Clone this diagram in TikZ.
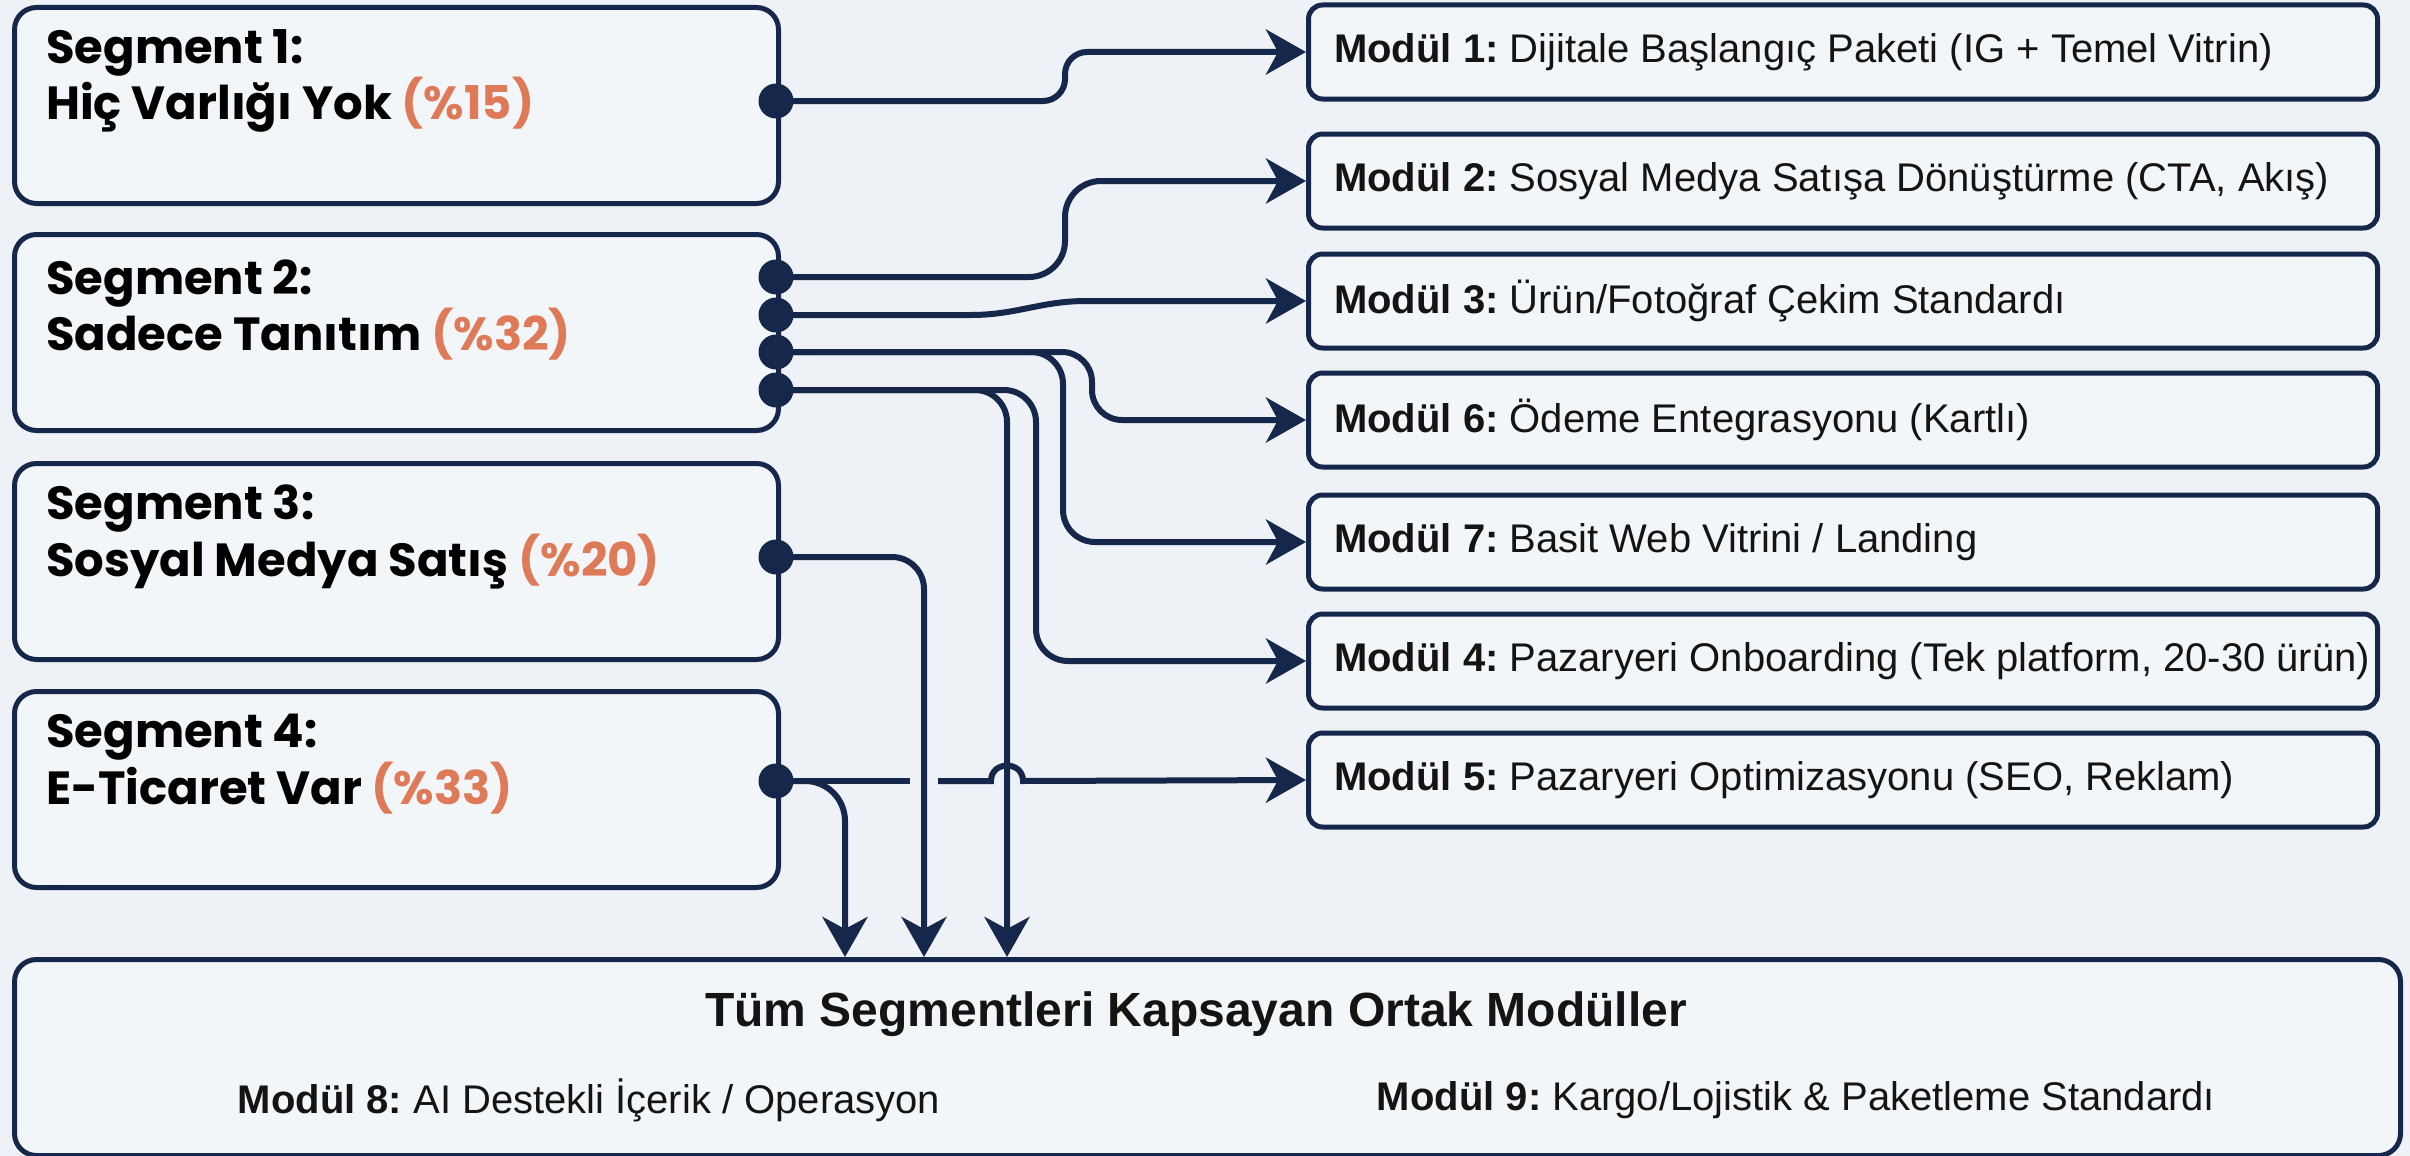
\documentclass[tikz,border=0pt]{standalone}
\usepackage{fontspec}
\setmainfont{Liberation Sans}
\newfontfamily\segfont{Poppins}
\usetikzlibrary{arrows.meta}
\definecolor{navy}{RGB}{21,40,75}
\definecolor{bgc}{RGB}{238,242,246}
\definecolor{boxfill}{RGB}{243,246,249}
\definecolor{pct}{RGB}{222,122,88}
\definecolor{txt}{RGB}{20,20,20}
\frenchspacing
\begin{document}
\begin{tikzpicture}[x=1pt,y=-1pt,
  segbox/.style={draw=navy, line width=5pt, fill=boxfill, rounded corners=22pt,
    minimum width=764pt, minimum height=196pt, anchor=north west, inner sep=0pt},
  segtext/.style={anchor=west, align=left, inner sep=0pt, text=black,
    font=\segfont\bfseries\fontsize{46.5}{55}\selectfont},
  modbox/.style={draw=navy, line width=5pt, fill=boxfill, rounded corners=14pt,
    minimum width=1069pt, minimum height=94pt, anchor=west, inner sep=0pt},
  modtext/.style={anchor=west, inner sep=0pt, text=txt,
    font=\fontsize{40}{46}\selectfont},
  bottext/.style={text=txt, inner sep=0pt, font=\fontsize{40}{46}\selectfont},
  dot/.style={circle, fill=navy, minimum size=35pt, inner sep=0pt},
  wire/.style={draw=navy, line width=6pt, rounded corners=32pt},
  conn/.style={wire, -{Stealth[length=40pt,width=45pt,inset=12pt]}}
]
\fill[bgc] (0,0) rectangle (2410,1156);
\useasboundingbox (0,0) rectangle (2410,1156);

% segment boxes
\node[segbox] (s1) at (12,5) {};
\node[segbox] (s2) at (12,232) {};
\node[segbox] (s3) at (12,461) {};
\node[segbox] (s4) at (12,689) {};
\node[segtext] (t1) at (46,81) {Segment 1:\\Hiç Varlığı Yok \textcolor{pct}{(\%15)}};
\node[segtext] (t2) at (46,310) {Segment 2:\\Sadece Tanıtım \textcolor{pct}{(\%32)}};
\node[segtext] (t3) at (46,537) {Segment 3:\\Sosyal Medya Satış \textcolor{pct}{(\%20)}};
\node[segtext] (t4) at (46,764) {Segment 4:\\E-Ticaret Var \textcolor{pct}{(\%33)}};

% module boxes
\node[modbox] (m1) at (1306,52) {};
\node[modbox] (m2) at (1306,181) {};
\node[modbox] (m3) at (1306,301) {};
\node[modbox] (m6) at (1306,420) {};
\node[modbox] (m7) at (1306,542) {};
\node[modbox] (m4) at (1306,661) {};
\node[modbox] (m5) at (1306,780) {};
\node[modtext] (l1) at (1334,52) {\textbf{Modül 1:} Dijitale Başlangıç Paketi (IG + Temel Vitrin)};
\node[modtext] (l2) at (1334,181) {\textbf{Modül 2:} Sosyal Medya Satışa Dönüştürme (CTA, Akış)};
\node[modtext] (l3) at (1334,301) {\textbf{Modül 3:} Ürün/Fotoğraf Çekim Standardı};
\node[modtext] (l6) at (1334,420) {\textbf{Modül 6:} Ödeme Entegrasyonu (Kartlı)};
\node[modtext] (l7) at (1334,542) {\textbf{Modül 7:} Basit Web Vitrini / Landing};
\node[modtext] (l4) at (1334,661) {\textbf{Modül 4:} Pazaryeri Onboarding (Tek platform, 20-30 ürün)};
\node[modtext] (l5) at (1334,780) {\textbf{Modül 5:} Pazaryeri Optimizasyonu (SEO, Reklam)};

% bottom box
\node[segbox, minimum width=2386pt, minimum height=196pt] (bot) at (12,957) {};
\node[text=txt, inner sep=0pt, font=\bfseries\fontsize{48}{56}\selectfont] (bt) at (1196,1014) {Tüm Segmentleri Kapsayan Ortak Modüller};
\node[bottext] (m8) at (589,1100) {\textbf{Modül 8:} AI Destekli İçerik / Operasyon};
\node[bottext] (m9) at (1796,1100) {\textbf{Modül 9:} Kargo/Lojistik \& Paketleme Standardı};

% anchor points
\coordinate (x10) at (845,0);
\coordinate (x8) at (924,0);
\coordinate (x7) at (1007,0);
\coordinate (s1o) at (776,101);
\coordinate (s2a) at (776,277);
\coordinate (s2b) at (776,315);
\coordinate (s2c) at (776,352);
\coordinate (s2d) at (776,390);
\coordinate (s3o) at (776,557);
\coordinate (s4o) at (776,781);

\draw[conn, rounded corners=22pt] (s1o) -- ++(289,0) |- (m1.west);
\draw[conn, rounded corners=36pt] (s2a) -- ++(289,0) |- (m2.west);
\draw[conn, sharp corners] (s2b) -- ++(195,0) to[out=0,in=180] ++(115,-14) -- (m3.west);
\draw[conn, rounded corners=30pt] (s2c) -- ++(316,0) |- (m6.west);
\draw[conn] (s2c) -- ++(287,0) |- (m7.west);
\draw[conn] (s2d) -- ++(260,0) |- (m4.west);
\draw[conn] (s2d) -| (x7 |- bot.north);
\draw[conn] (s3o) -| (x8 |- bot.north);
\draw[conn, rounded corners=40pt] (s4o) -| (x10 |- bot.north);
\draw[wire] (s4o) -- ([xshift=-14pt]x8 |- s4o);
\draw[conn, sharp corners] ([xshift=14pt]x8 |- s4o) -- ([xshift=-16pt]x7 |- s4o)
  to[out=90,in=90,looseness=1.65] ([xshift=16pt]x7 |- s4o) -- (m5.west);

% dots on top
\node[dot] (d1) at (s1o) {};
\node[dot] (d2a) at (s2a) {};
\node[dot] (d2b) at (s2b) {};
\node[dot] (d2c) at (s2c) {};
\node[dot] (d2d) at (s2d) {};
\node[dot] (d3) at (s3o) {};
\node[dot] (d4) at (s4o) {};
\end{tikzpicture}
\end{document}
